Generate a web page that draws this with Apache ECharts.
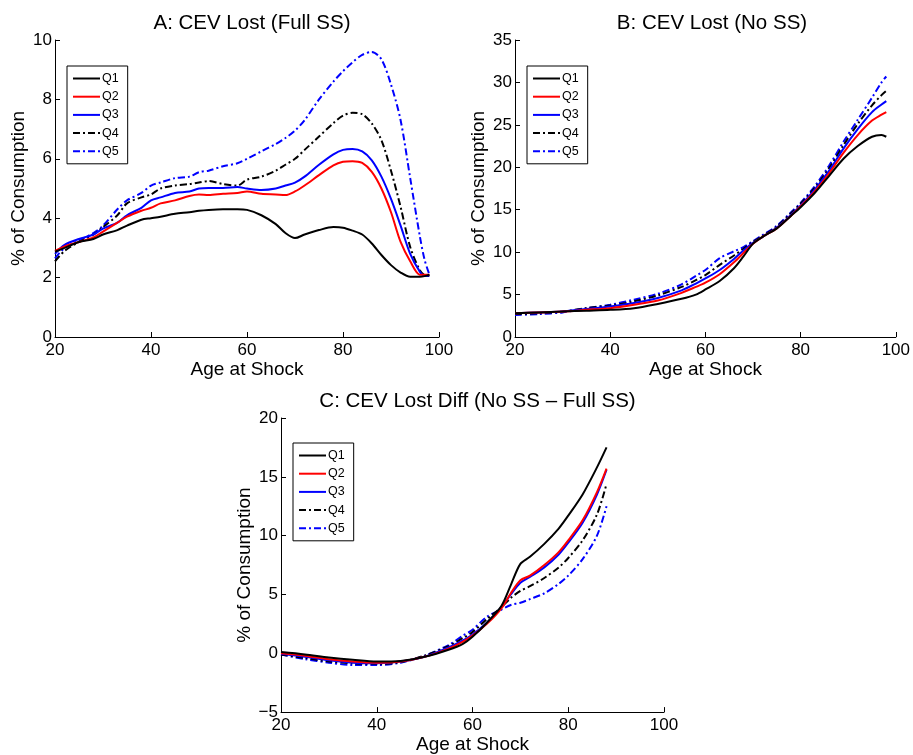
<!DOCTYPE html>
<html><head><meta charset="utf-8">
<script src="https://cdn.jsdelivr.net/npm/echarts@6/dist/echarts.min.js"></script>
<style>html,body{margin:0;padding:0;background:#fff}#c{width:913px;height:755px}</style>
</head><body><div id="c"></div>
<script>
const names = ['Q1','Q2','Q3','Q4','Q5'];
const titles = ['A: CEV Lost (Full SS)','B: CEV Lost (No SS)','C: CEV Lost Diff (No SS \u2013 Full SS)'];
const xTicks = [20,40,60,80,100];

const agesA = [20,22,25,28,30,33,35,38,40,42,45,48,50,52,55,58,60,63,66,68,70,72,75,78,80,82,84,86,88,90,92,94,96,97,98];
const aQ1 = [2.87,3.0,3.2,3.3,3.45,3.6,3.75,3.95,4.0,4.05,4.15,4.2,4.25,4.28,4.3,4.3,4.28,4.1,3.8,3.5,3.33,3.45,3.6,3.7,3.68,3.58,3.45,3.15,2.76,2.42,2.17,2.03,2.03,2.05,2.1];
const aQ2 = [2.9,3.05,3.2,3.35,3.55,3.85,4.05,4.25,4.35,4.5,4.6,4.75,4.8,4.78,4.82,4.85,4.9,4.82,4.8,4.78,4.9,5.1,5.45,5.78,5.9,5.92,5.86,5.56,5.0,4.2,3.2,2.55,2.1,2.1,2.1];
const aQ3 = [2.8,3.1,3.3,3.45,3.65,3.85,4.1,4.35,4.6,4.7,4.85,4.9,5.0,5.02,5.02,5.05,5.0,4.95,5.0,5.1,5.2,5.4,5.8,6.15,6.3,6.33,6.25,5.95,5.4,4.65,3.75,2.8,2.2,2.05,2.08];
const aQ4 = [2.55,2.9,3.2,3.45,3.7,4.1,4.5,4.7,4.8,5.0,5.1,5.15,5.2,5.25,5.15,5.1,5.3,5.4,5.6,5.8,6.0,6.3,6.75,7.2,7.45,7.55,7.5,7.19,6.63,5.6,4.38,3.03,2.25,2.08,2.05];
const aQ5 = [2.65,3.0,3.25,3.5,3.75,4.3,4.6,4.85,5.1,5.2,5.35,5.4,5.55,5.6,5.75,5.85,6.0,6.25,6.5,6.7,6.95,7.3,8.0,8.6,8.95,9.25,9.5,9.6,9.35,8.5,7.3,5.35,3.4,2.6,2.1];

const agesB = [20,25,30,35,40,45,50,55,58,60,63,66,68,70,72,75,78,80,83,86,89,92,95,97,98];
const bQ1 = [2.8,2.9,3.0,3.1,3.2,3.4,3.9,4.5,5.0,5.6,6.6,8.1,9.5,11.0,11.8,12.8,14.3,15.3,17.0,19.0,21.0,22.5,23.6,23.8,23.6];
const bQ2 = [2.8,2.9,3.0,3.2,3.4,3.8,4.3,5.2,5.9,6.4,7.4,8.8,9.9,11.0,11.8,12.8,14.3,15.4,17.2,19.3,21.7,23.8,25.5,26.2,26.5];
const bQ3 = [2.8,2.9,3.0,3.3,3.6,4.0,4.6,5.5,6.3,6.9,7.9,9.2,10.2,11.1,11.8,12.9,14.4,15.5,17.4,19.6,22.2,24.5,26.5,27.4,27.8];
const bQ4 = [2.7,2.8,3.0,3.4,3.7,4.2,4.9,5.9,6.7,7.3,8.5,9.6,10.4,11.2,11.9,13.0,14.6,15.7,17.6,19.9,22.6,25.1,27.3,28.5,29.0];
const bQ5 = [2.6,2.7,2.9,3.4,3.8,4.4,5.1,6.2,7.2,7.9,9.3,10.1,10.6,11.3,12.0,13.1,14.7,15.8,17.8,20.2,23.0,25.6,28.2,30.0,30.7];

const agesC = [20,25,30,35,40,45,50,55,58,60,63,66,68,70,72,75,78,80,83,86,88];
const cQ1 = [0.1,-0.1,-0.35,-0.55,-0.7,-0.65,-0.3,0.3,0.8,1.4,2.6,4.0,5.8,7.6,8.2,9.3,10.6,11.7,13.5,15.8,17.5];
const cQ2 = [0.0,-0.2,-0.5,-0.7,-0.8,-0.7,-0.3,0.4,1.0,1.5,2.5,3.8,5.1,6.2,6.6,7.5,8.6,9.6,11.3,13.7,15.7];
const cQ3 = [-0.05,-0.3,-0.6,-0.8,-0.85,-0.7,-0.3,0.5,1.1,1.6,2.6,3.9,5.0,6.0,6.5,7.3,8.4,9.4,11.1,13.5,15.6];
const cQ4 = [-0.1,-0.4,-0.7,-0.85,-0.9,-0.75,-0.2,0.6,1.3,1.8,2.9,3.9,4.7,5.3,5.7,6.4,7.3,8.1,9.6,11.8,14.4];
const cQ5 = [-0.1,-0.5,-0.8,-1.0,-1.0,-0.8,-0.2,0.7,1.5,2.0,3.1,3.7,4.1,4.3,4.6,5.1,5.9,6.6,8.0,10.0,12.5];

const yRanges = [[0,10,2],[0,35,5],[-5,20,5]];
const panels = [
  {ages: agesA, vals: [aQ1,aQ2,aQ3,aQ4,aQ5]},
  {ages: agesB, vals: [bQ1,bQ2,bQ3,bQ4,bQ5]},
  {ages: agesC, vals: [cQ1,cQ2,cQ3,cQ4,cQ5]}
];

const colors = ['#000000','#ff0000','#0000ff','#000000','#0000ff'];
const dashes = ['solid','solid','solid',[7,3,2,3],[7,3,2,3]];
const FONT = 'Liberation Sans, Arial, Helvetica, sans-serif';

const grids = [
  {left:55, top:40, width:384, height:297},
  {left:515, top:40, width:384, height:297},
  {left:281, top:418, width:383, height:297}
];
const legendPos = [{left:67, top:66},{left:527, top:66},{left:293, top:443}];

const option = {
  animation:false,
  backgroundColor:'#fff',
  title: grids.map((g,i)=>({
    text: titles[i], left: g.left + g.width/2, top: g.top - 32, textAlign:'center',
    textStyle:{fontFamily:FONT, fontSize:20.5, fontWeight:'normal', color:'#000'}
  })),
  grid: grids,
  legend: legendPos.map((p,i)=>({
    left:p.left, top:p.top, orient:'vertical', data:names,
    borderColor:'#000', borderWidth:1, padding:[6,9,6,5],
    itemWidth:27, itemHeight:10, itemGap:5.2,
    itemStyle:{color:'rgba(0,0,0,0)', borderColor:'rgba(0,0,0,0)', borderWidth:0},
    textStyle:{fontFamily:FONT, fontSize:12.5, color:'#000', padding:[0,0,0,-3]},
    selectedMode:false
  })),
  xAxis: grids.map((g,i)=>({
    type:'value', gridIndex:i, min:20, max:100, interval:20,
    name:'Age at Shock', nameLocation:'middle', nameGap:22,
    nameTextStyle:{fontFamily:FONT, fontSize:19, color:'#000'},
    axisLine:{onZero:false, lineStyle:{color:'#000', width:1}},
    axisTick:{inside:true, length:5, lineStyle:{color:'#000'}},
    axisLabel:{fontFamily:FONT, fontSize:17, color:'#000', margin:5},
    splitLine:{show:false}
  })),
  yAxis: grids.map((g,i)=>({
    type:'value', gridIndex:i, min:yRanges[i][0], max:yRanges[i][1], interval:yRanges[i][2],
    name:'% of Consumption', nameLocation:'middle', nameGap: i===2 ? 26 : 27,
    nameTextStyle:{fontFamily:FONT, fontSize:19, color:'#000'},
    axisLine:{onZero:false, lineStyle:{color:'#000', width:1}},
    axisTick:{inside:true, length:5, lineStyle:{color:'#000'}},
    axisLabel:{fontFamily:FONT, fontSize:17, color:'#000', margin:3,
      formatter: v => String(v).replace('-', '\u2212')},
    splitLine:{show:false}
  })),
  series: []
};

panels.forEach((p,pi)=>{
  p.vals.forEach((vals,si)=>{
    option.series.push({
      type:'line', name:names[si], xAxisIndex:pi, yAxisIndex:pi,
      data: p.ages.map((a,k)=>[a, vals[k]]),
      showSymbol:false, symbol:'none', smooth:0.3,
      lineStyle:{color:colors[si], width:2, type:dashes[si]},
      itemStyle:{color:colors[si]},
      z: 10 - si
    });
  });
});

const chart = echarts.init(document.getElementById('c'), null, {renderer:'canvas'});
chart.setOption(option);
</script></body></html>
